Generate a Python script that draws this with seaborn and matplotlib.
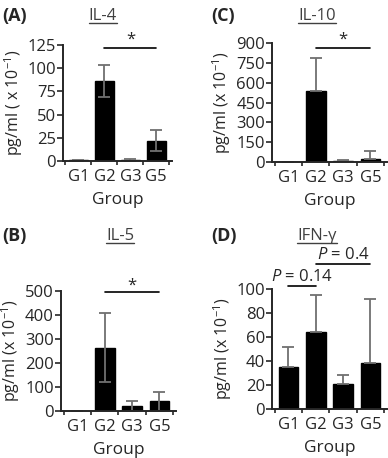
import numpy as np
import pandas as pd
import matplotlib
matplotlib.use('Agg')
import matplotlib.pyplot as plt
import seaborn as sns
from matplotlib.lines import Line2D

sns.set_style('ticks')
plt.rcParams['font.family'] = ['Open Sans', 'DejaVu Sans']
plt.rcParams['mathtext.fontset'] = 'custom'
plt.rcParams['mathtext.rm'] = 'Open Sans'
plt.rcParams['mathtext.it'] = 'Open Sans:italic'

groups = ['G1', 'G2', 'G3', 'G5']

# IL-4 (two-sided error)
il4_mean = [0.8, 86, 1.2, 22]
il4_err = [0.5, 17, 1.0, 11.5]
# IL-10 (upper error only)
il10_mean = [0, 540, 5, 25]
il10_err = [0, 250, 10, 60]
# IL-5 (two-sided error)
il5_mean = [0, 260, 20, 40]
il5_lo = [0, 140, 20, 40]
il5_hi = [0, 145, 20, 38]
# IFN-gamma (upper error only)
ifn_mean = [35, 64, 21, 38]
ifn_err = [17, 31, 7, 54]

fig = plt.figure(figsize=(3.88, 4.58), dpi=100)

axA = fig.add_axes([0.162, 0.6485, 0.281, 0.2535])
axC = fig.add_axes([0.701, 0.646, 0.296, 0.260])
axB = fig.add_axes([0.157, 0.1033, 0.296, 0.262])
axD = fig.add_axes([0.701, 0.107, 0.296, 0.262])


def panel(ax, mean, lo, hi, ymax, step, ylab):
    df = pd.DataFrame({'Group': groups, 'value': mean})
    sns.barplot(data=df, x='Group', y='value', color='black', width=0.72,
                saturation=1, ax=ax, edgecolor='black')
    ax.errorbar(np.arange(len(groups)), mean, yerr=[lo, hi], fmt='none',
                ecolor='#707070', elinewidth=1.3, capsize=4.5, capthick=1.3)
    ax.set_ylim(0, ymax)
    ax.set_xlim(-0.6, 3.6)
    ax.set_yticks(np.arange(0, ymax + 1, step))
    ax.set_xlabel('Group', fontsize=12.5, labelpad=5)
    ax.set_ylabel(ylab, fontsize=11.5, labelpad=2)
    ax.tick_params(axis='y', labelsize=12, length=4, width=1.2, pad=1)
    ax.tick_params(axis='x', labelsize=12, length=0, pad=6)
    ax.set_xticks([-0.5, 0.5, 1.5, 2.5, 3.5], minor=True)
    ax.tick_params(axis='x', which='minor', length=3, width=1.2)
    for s in ['left', 'bottom']:
        ax.spines[s].set_linewidth(1.4)
    sns.despine(ax=ax)


def bracket(ax, x0, x1, y, text, ty):
    ax.plot([x0, x1], [y, y], color='black', lw=1.2, clip_on=False)
    ax.text((x0 + x1) / 2, ty, text, ha='center', va='center',
            fontsize=12, clip_on=False)


ylab1 = r'pg/ml ( x 10$^{-1}$)'
ylab2 = r'pg/ml (x 10$^{-1}$)'

panel(axA, il4_mean, il4_err, il4_err, 125, 25, ylab1)
bracket(axA, 1, 3, 122, '*', 131)

panel(axC, il10_mean, [0, 0, 0, 0], il10_err, 900, 150, ylab2)
bracket(axC, 1, 3, 862, '*', 925)

panel(axB, il5_mean, il5_lo, il5_hi, 500, 100, ylab2)
bracket(axB, 1, 3, 493, '*', 522)

panel(axD, ifn_mean, [0, 0, 0, 0], ifn_err, 100, 20, ylab2)
bracket(axD, 0, 1, 102.5, '$P$ = 0.14', 110)
bracket(axD, 1, 3, 121, '$P$ = 0.4', 128)

# panel letters and underlined titles
labels = [('(A)', 0.005, 0.965, 'IL-4', 0.265),
          ('(C)', 0.545, 0.965, 'IL-10', 0.817),
          ('(B)', 0.005, 0.485, 'IL-5', 0.31),
          ('(D)', 0.545, 0.485, 'IFN-\u03b3', 0.817)]
titles = []
for lett, lx, ly, title, tx in labels:
    fig.text(lx, ly, lett, fontsize=13, fontweight='bold', va='center')
    t = fig.text(tx, ly, title, fontsize=12, color='#404040',
                 ha='center', va='center')
    titles.append(t)

fig.canvas.draw()
r = fig.canvas.get_renderer()
for t in titles:
    bb = t.get_window_extent(r).transformed(fig.transFigure.inverted())
    fig.add_artist(Line2D([bb.x0, bb.x1], [bb.y0 + 0.002, bb.y0 + 0.002],
                          color='#404040', lw=1.0))

fig.savefig('out.png', dpi=100)
